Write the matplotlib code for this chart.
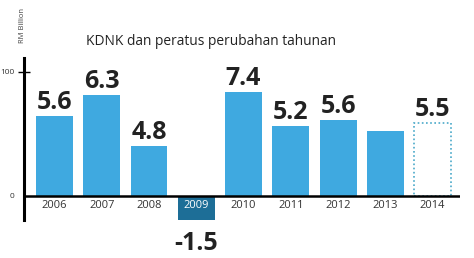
import matplotlib.pyplot as plt

# GDP (RM billion, bar height) and annual % change
years = ["2006", "2007", "2008", "2009", "2010", "2011", "2012", "2013", "2014"]
gdp = [64.5, 81.5, 40, -20, 84, 56, 61, 52, 59]
growth = ["5.6", "6.3", "4.8", "-1.5", "7.4", "5.2", "5.6", "", "5.5"]

blue = "#3fa9e0"
dark = "#1d6e97"

fig = plt.figure(figsize=(4.74, 2.58), dpi=100)
ax = fig.add_axes([0.0506, 0.147, 0.919, 0.628])

x = list(range(len(years)))
for i, (yr, v, g) in enumerate(zip(years, gdp, growth)):
    if yr == "2014":
        ax.bar(i, v, width=0.78, facecolor="white", edgecolor="#4aa9c9",
               linestyle=(0, (1, 1.5)), linewidth=1.2)
    elif yr == "2009":
        ax.bar(i, v, width=0.78, color=dark)
    else:
        ax.bar(i, v, width=0.78, color=blue)
    if not g:
        continue
    if v >= 0:
        ax.annotate(g, (i, v), xytext=(0, 5), textcoords="offset points",
                    ha="center", va="baseline", fontsize=18, fontweight="bold",
                    family="Open Sans", color="#222222", annotation_clip=False)
    else:
        ax.annotate(g, (i, v), xytext=(0, -7), textcoords="offset points",
                    ha="center", va="top", fontsize=18, fontweight="bold",
                    family="Open Sans", color="#222222", annotation_clip=False)

# year labels under the baseline
for i, yr in enumerate(years):
    ax.text(i, -3.5, yr, ha="center", va="top", fontsize=8, family="Open Sans",
            color="white" if yr == "2009" else "#333333")

ax.set_xlim(-0.645, 8.57)
ax.set_ylim(-19.4, 111)
ax.axhline(0, color="black", linewidth=1.8, zorder=3)

for s in ["top", "right", "bottom"]:
    ax.spines[s].set_visible(False)
ax.spines["left"].set_linewidth(2.2)
ax.set_xticks([])
ax.set_yticks([0, 100])
ax.set_yticklabels(["0", "100"], fontsize=6, family="Open Sans", color="#333333")
ax.tick_params(axis="y", direction="inout", length=8, width=1, pad=3)
ax.yaxis.get_major_ticks()[0].tick1line.set_visible(False)

fig.text(0.181, 0.84, "KDNK dan peratus perubahan tahunan", fontsize=9.9,
         family="Open Sans", color="#222222", va="center")
fig.text(0.047, 0.9, "RM Billion", rotation=90, fontsize=5.5, family="Open Sans",
         color="#444444", ha="center", va="center")

fig.savefig("out.png", dpi=100)
